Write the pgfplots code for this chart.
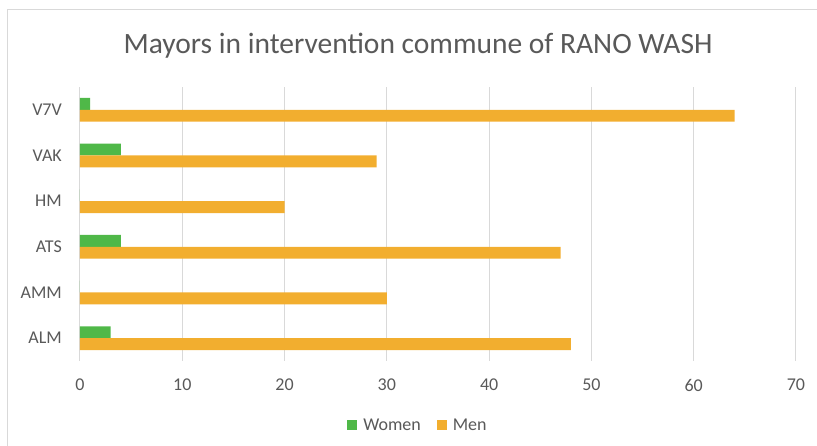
\documentclass[border=0pt]{standalone}
\usepackage{pgfplots}
\pgfplotsset{compat=1.18}
\usepackage{fontspec}
\setmainfont{Carlito}
\definecolor{women}{HTML}{4FB848}
\definecolor{men}{HTML}{F2AE2F}
\definecolor{txt}{HTML}{595959}
\definecolor{grd}{HTML}{D9D9D9}
\begin{document}
\begin{tikzpicture}
\useasboundingbox (0,0) rectangle (817pt,446pt);
\clip (0,0) rectangle (817pt,446pt);
\draw[grd, line width=1pt] (7pt,-5pt) rectangle (830pt,436pt);
\node[anchor=base, text=txt, font=\fontsize{29.5}{31}\selectfont] at (418pt,392pt)
  {Mayors in intervention commune of RANO WASH};
\begin{axis}[
  at={(80pt,85pt)}, anchor=south west,
  scale only axis, width=716pt, height=274pt,
  xbar, bar width=0.26,
  xmin=0, xmax=70, ymin=-0.5, ymax=5.5,
  xtick={0,10,...,70},
  ytick={0,...,5},
  yticklabels={ALM,AMM,ATS,HM,VAK,V7V},
  xmajorgrids, grid style={grd, line width=1pt},
  axis line style={draw=none},
  major tick length=0pt,
  /pgf/number format/assume math mode=true,
  ticklabel style={text=txt, font=\fontsize{18}{20}\selectfont},
  yticklabel style={inner sep=0pt, xshift=-18pt},
  xticklabel style={inner sep=0pt, yshift=-18pt},
  legend style={at={(0.472,-0.234)}, anchor=center, draw=none,
    font=\fontsize{18}{20}\selectfont, text=txt,
    /tikz/every odd column/.append style={column sep=4pt},
    /tikz/every even column/.append style={column sep=14pt}},
  legend columns=2,
  legend image code/.code={\fill[#1] (0pt,-5pt) rectangle (10pt,5pt);},
]
\addplot[fill=women, draw=none, bar shift=0.13] coordinates {
  (3,0) (0,1) (4,2) (0,3) (4,4) (1,5)
};
\addlegendentry{Women}
\addplot[fill=men, draw=none, bar shift=-0.13] coordinates {
  (48,0) (30,1) (47,2) (20,3) (29,4) (64,5)
};
\addlegendentry{Men}
\end{axis}
\end{tikzpicture}
\end{document}
